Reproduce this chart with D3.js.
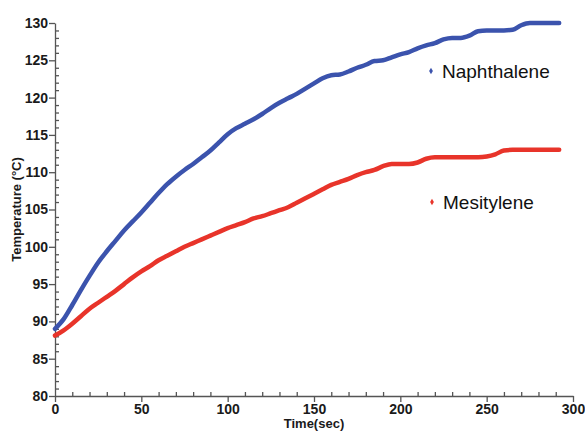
<!DOCTYPE html>
<html>
<head>
<meta charset="utf-8">
<script src="https://cdn.jsdelivr.net/npm/d3@7"></script>
<style>
  body { margin: 0; background: #fff; }
  text { font-family: "Liberation Sans", Arial, Helvetica, sans-serif; }
</style>
</head>
<body>
<div id="chart"></div>
<script>
// Time points (sec) and readings
var timeSec = [0, 5, 10, 15, 20, 25, 30, 35, 40, 45, 50, 55, 60, 65, 70, 75, 80, 85, 90, 95,
    100, 105, 110, 115, 120, 125, 130, 135, 140, 145, 150, 155, 160, 165, 170, 175, 180, 185, 190, 195,
    200, 205, 210, 215, 220, 225, 230, 235, 240, 245, 250, 255, 260, 265, 270, 275, 280, 285, 292];

var naphthalene = [89.0, 90.3, 92.2, 94.2, 96.1, 97.9, 99.4, 100.8, 102.2, 103.4, 104.6, 105.9, 107.2, 108.4, 109.4, 110.3, 111.1, 112.0, 112.9, 114.0,
    115.1, 115.9, 116.5, 117.1, 117.8, 118.6, 119.3, 119.9, 120.5, 121.2, 121.9, 122.6, 123.0, 123.1, 123.5, 124.0, 124.4, 124.9, 125.0, 125.4,
    125.8, 126.1, 126.6, 127.0, 127.3, 127.8, 128.0, 128.0, 128.3, 128.9, 129.0, 129.0, 129.0, 129.1, 129.7, 130.0, 130.0, 130.0, 130.0];

var mesitylene = [88.1, 88.8, 89.7, 90.7, 91.7, 92.5, 93.3, 94.1, 95.0, 95.9, 96.7, 97.4, 98.2, 98.8, 99.4, 100.0, 100.5, 101.0, 101.5, 102.0,
    102.5, 102.9, 103.3, 103.8, 104.1, 104.5, 104.9, 105.3, 105.9, 106.5, 107.1, 107.7, 108.3, 108.7, 109.1, 109.6, 110.0, 110.3, 110.8, 111.1,
    111.1, 111.1, 111.3, 111.8, 112.0, 112.0, 112.0, 112.0, 112.0, 112.0, 112.1, 112.4, 112.9, 113.0, 113.0, 113.0, 113.0, 113.0, 113.0];

var seriesNames = ["Naphthalene", "Mesitylene"];
var seriesColors = ["#3b53ad", "#e8342a"];

var xTicks = [0, 50, 100, 150, 200, 250, 300];
var yTicks = [80, 85, 90, 95, 100, 105, 110, 115, 120, 125, 130];

var w = 585, h = 432;
var margin = { top: 23, right: 12, bottom: 36, left: 55 };

var svg = d3.select("#chart").append("svg")
    .attr("width", w)
    .attr("height", h);

var x = d3.scaleLinear().domain([0, 300]).range([margin.left, w - margin.right]);
var y = d3.scaleLinear().domain([80, 130]).range([h - margin.bottom, margin.top]);

// minor ticks point inward, major ticks outward
svg.append("g")
    .attr("transform", "translate(0," + y(80) + ")")
    .call(d3.axisTop(x).tickValues(d3.range(0, 301, 10).filter(function(d) { return d % 50 !== 0; }))
        .tickSize(4).tickFormat(""))
    .call(function(g) { g.select(".domain").remove(); });

svg.append("g")
    .attr("transform", "translate(" + x(0) + ",0)")
    .call(d3.axisRight(y).tickValues(d3.range(80, 131, 1).filter(function(d) { return d % 5 !== 0; }))
        .tickSize(4).tickFormat(""))
    .call(function(g) { g.select(".domain").remove(); });

var xAxis = svg.append("g")
    .attr("transform", "translate(0," + y(80) + ")")
    .call(d3.axisBottom(x).tickValues(xTicks).tickSize(6).tickSizeOuter(0).tickPadding(2));

var yAxis = svg.append("g")
    .attr("transform", "translate(" + x(0) + ",0)")
    .call(d3.axisLeft(y).tickValues(yTicks).tickSize(6).tickSizeOuter(0).tickPadding(1));

svg.selectAll(".tick line, .domain").attr("stroke", "#555").attr("stroke-width", 1.3);
[xAxis, yAxis].forEach(function(a) {
    a.selectAll("text")
        .attr("font-size", 14)
        .attr("font-weight", "bold")
        .attr("fill", "#1a1a1a")
        .style("font-family", "'Liberation Sans', Arial, sans-serif");
});

// axis titles
svg.append("text")
    .attr("x", (x(0) + x(300)) / 2)
    .attr("y", 428)
    .attr("text-anchor", "middle")
    .attr("font-size", 13)
    .attr("font-weight", "bold")
    .attr("fill", "#1a1a1a")
    .text("Time(sec)");

svg.append("text")
    .attr("transform", "translate(21," + ((y(80) + y(130)) / 2) + ") rotate(-90)")
    .attr("text-anchor", "middle")
    .attr("font-size", 13)
    .attr("font-weight", "bold")
    .attr("fill", "#1a1a1a")
    .text("Temperature (°C)");

// series lines
var allSeries = [naphthalene, mesitylene];
var line = d3.line()
    .x(function(d) { return x(d[0]); })
    .y(function(d) { return y(d[1]); })
    .curve(d3.curveMonotoneX);

allSeries.forEach(function(vals, i) {
    svg.append("path")
        .datum(d3.zip(timeSec, vals))
        .attr("fill", "none")
        .attr("stroke", seriesColors[i])
        .attr("stroke-width", 4.5)
        .attr("stroke-linecap", "round")
        .attr("stroke-linejoin", "round")
        .attr("d", line);
});

// legend labels placed beside each curve
var legendPos = [[431, 71], [432, 202]];
var diamond = d3.symbol().type(d3.symbolDiamond).size(12);
seriesNames.forEach(function(name, i) {
    var g = svg.append("g").attr("transform", "translate(" + legendPos[i][0] + "," + legendPos[i][1] + ")");
    g.append("path").attr("d", diamond).attr("fill", seriesColors[i]);
    g.append("text")
        .attr("x", 11)
        .attr("y", 7)
        .attr("font-size", 19)
        .attr("fill", "#111")
        .text(name);
});
</script>
</body>
</html>
